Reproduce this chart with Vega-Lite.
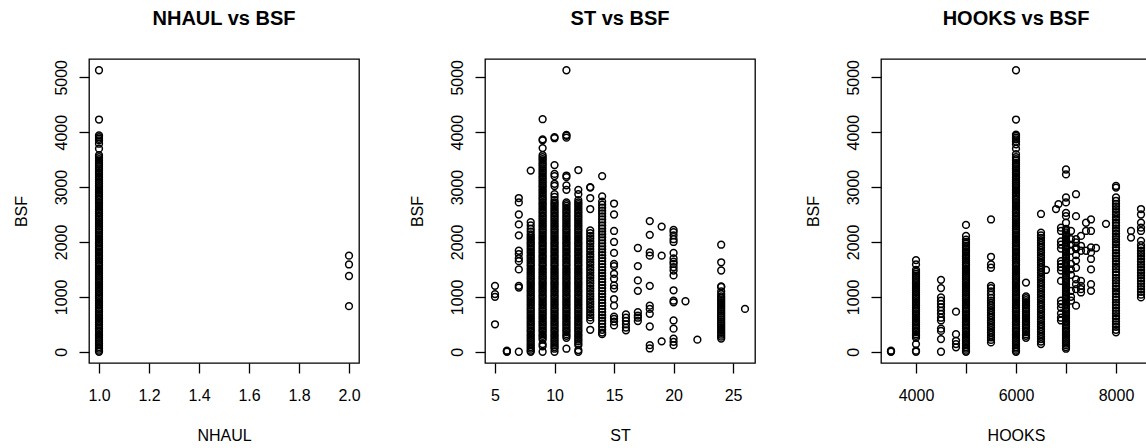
{
"$schema": "https://vega.github.io/schema/vega-lite/v6.json",
"background": "white",
"padding": {"left": 12, "top": 8, "right": 0, "bottom": 0},
"bounds": "flush",
"spacing": 126,
"config": {
  "font": "Liberation Sans",
  "view": {"stroke": "black", "strokeWidth": 1.3},
  "axis": {"domain": false, "grid": false, "tickColor": "black", "tickWidth": 1.3, "tickSize": 10, "labelFont": "Liberation Sans", "labelFontSize": 16, "labelColor": "black", "titleFont": "Liberation Sans", "titleFontSize": 16, "titleFontWeight": "normal", "titleColor": "black", "labelOverlap": false, "labelFlush": false},
  "axisX": {"labelBaseline": "alphabetic", "labelPadding": 27, "titleBaseline": "alphabetic", "titlePadding": 37},
  "axisY": {"labelAngle": 270, "labelAlign": "center", "labelBaseline": "alphabetic", "labelPadding": 13, "titleAngle": 270, "titleBaseline": "alphabetic", "titlePadding": 27},
  "title": {"font": "Liberation Sans", "fontSize": 20, "fontWeight": "bold", "color": "black", "anchor": "middle", "baseline": "alphabetic", "offset": 30},
  "point": {"shape": "circle", "filled": false, "stroke": "black", "strokeWidth": 1.5, "size": 46, "opacity": 1}
},
"datasets": {
"nhaul": [
{"NHAUL":1,"BSF":0},{"NHAUL":1,"BSF":20},{"NHAUL":1,"BSF":55},{"NHAUL":1,"BSF":85},{"NHAUL":1,"BSF":120},{"NHAUL":1,"BSF":150},{"NHAUL":1,"BSF":190},{"NHAUL":1,"BSF":220},{"NHAUL":1,"BSF":255},{"NHAUL":1,"BSF":290},
{"NHAUL":1,"BSF":320},{"NHAUL":1,"BSF":360},{"NHAUL":1,"BSF":390},{"NHAUL":1,"BSF":425},{"NHAUL":1,"BSF":460},{"NHAUL":1,"BSF":495},{"NHAUL":1,"BSF":530},{"NHAUL":1,"BSF":560},{"NHAUL":1,"BSF":600},{"NHAUL":1,"BSF":630},
{"NHAUL":1,"BSF":665},{"NHAUL":1,"BSF":700},{"NHAUL":1,"BSF":735},{"NHAUL":1,"BSF":770},{"NHAUL":1,"BSF":800},{"NHAUL":1,"BSF":840},{"NHAUL":1,"BSF":870},{"NHAUL":1,"BSF":905},{"NHAUL":1,"BSF":940},{"NHAUL":1,"BSF":975},
{"NHAUL":1,"BSF":1010},{"NHAUL":1,"BSF":1040},{"NHAUL":1,"BSF":1080},{"NHAUL":1,"BSF":1110},{"NHAUL":1,"BSF":1145},{"NHAUL":1,"BSF":1180},{"NHAUL":1,"BSF":1215},{"NHAUL":1,"BSF":1250},{"NHAUL":1,"BSF":1280},{"NHAUL":1,"BSF":1320},
{"NHAUL":1,"BSF":1350},{"NHAUL":1,"BSF":1385},{"NHAUL":1,"BSF":1420},{"NHAUL":1,"BSF":1455},{"NHAUL":1,"BSF":1490},{"NHAUL":1,"BSF":1520},{"NHAUL":1,"BSF":1560},{"NHAUL":1,"BSF":1590},{"NHAUL":1,"BSF":1625},{"NHAUL":1,"BSF":1660},
{"NHAUL":1,"BSF":1695},{"NHAUL":1,"BSF":1730},{"NHAUL":1,"BSF":1760},{"NHAUL":1,"BSF":1800},{"NHAUL":1,"BSF":1830},{"NHAUL":1,"BSF":1865},{"NHAUL":1,"BSF":1900},{"NHAUL":1,"BSF":1935},{"NHAUL":1,"BSF":1970},{"NHAUL":1,"BSF":2000},
{"NHAUL":1,"BSF":2040},{"NHAUL":1,"BSF":2070},{"NHAUL":1,"BSF":2105},{"NHAUL":1,"BSF":2140},{"NHAUL":1,"BSF":2175},{"NHAUL":1,"BSF":2210},{"NHAUL":1,"BSF":2240},{"NHAUL":1,"BSF":2280},{"NHAUL":1,"BSF":2310},{"NHAUL":1,"BSF":2345},
{"NHAUL":1,"BSF":2380},{"NHAUL":1,"BSF":2415},{"NHAUL":1,"BSF":2450},{"NHAUL":1,"BSF":2480},{"NHAUL":1,"BSF":2520},{"NHAUL":1,"BSF":2550},{"NHAUL":1,"BSF":2585},{"NHAUL":1,"BSF":2620},{"NHAUL":1,"BSF":2655},{"NHAUL":1,"BSF":2690},
{"NHAUL":1,"BSF":2720},{"NHAUL":1,"BSF":2760},{"NHAUL":1,"BSF":2790},{"NHAUL":1,"BSF":2825},{"NHAUL":1,"BSF":2860},{"NHAUL":1,"BSF":2895},{"NHAUL":1,"BSF":2930},{"NHAUL":1,"BSF":2960},{"NHAUL":1,"BSF":3000},{"NHAUL":1,"BSF":3030},
{"NHAUL":1,"BSF":3065},{"NHAUL":1,"BSF":3100},{"NHAUL":1,"BSF":3135},{"NHAUL":1,"BSF":3170},{"NHAUL":1,"BSF":3200},{"NHAUL":1,"BSF":3240},{"NHAUL":1,"BSF":3270},{"NHAUL":1,"BSF":3305},{"NHAUL":1,"BSF":3340},{"NHAUL":1,"BSF":3375},
{"NHAUL":1,"BSF":3410},{"NHAUL":1,"BSF":3440},{"NHAUL":1,"BSF":3480},{"NHAUL":1,"BSF":3510},{"NHAUL":1,"BSF":3545},
{"NHAUL":1,"BSF":3580},{"NHAUL":1,"BSF":3700},{"NHAUL":1,"BSF":3790},{"NHAUL":1,"BSF":3850},{"NHAUL":1,"BSF":3880},{"NHAUL":1,"BSF":3910},{"NHAUL":1,"BSF":3940},{"NHAUL":1,"BSF":4230},{"NHAUL":1,"BSF":5128},
{"NHAUL":2,"BSF":1750},{"NHAUL":2,"BSF":1590},{"NHAUL":2,"BSF":1380},{"NHAUL":2,"BSF":830}
],
"st": [
{"ST":5,"BSF":500},{"ST":5,"BSF":1000},{"ST":5,"BSF":1050},{"ST":5,"BSF":1200},
{"ST":6,"BSF":0},{"ST":6,"BSF":10},{"ST":6,"BSF":20},
{"ST":7,"BSF":0},{"ST":7,"BSF":1170},{"ST":7,"BSF":1200},{"ST":7,"BSF":1500},{"ST":7,"BSF":1650},{"ST":7,"BSF":1700},{"ST":7,"BSF":1780},{"ST":7,"BSF":1840},{"ST":7,"BSF":2120},{"ST":7,"BSF":2320},{"ST":7,"BSF":2500},{"ST":7,"BSF":2720},{"ST":7,"BSF":2800},
{"ST":8,"BSF":0},{"ST":8,"BSF":20},{"ST":8,"BSF":55},{"ST":8,"BSF":85},{"ST":8,"BSF":120},{"ST":8,"BSF":150},{"ST":8,"BSF":190},{"ST":8,"BSF":220},{"ST":8,"BSF":255},{"ST":8,"BSF":290},
{"ST":8,"BSF":320},{"ST":8,"BSF":360},{"ST":8,"BSF":390},{"ST":8,"BSF":425},{"ST":8,"BSF":460},{"ST":8,"BSF":495},{"ST":8,"BSF":530},{"ST":8,"BSF":560},{"ST":8,"BSF":600},{"ST":8,"BSF":630},
{"ST":8,"BSF":665},{"ST":8,"BSF":700},{"ST":8,"BSF":735},{"ST":8,"BSF":770},{"ST":8,"BSF":800},{"ST":8,"BSF":840},{"ST":8,"BSF":870},{"ST":8,"BSF":905},{"ST":8,"BSF":940},{"ST":8,"BSF":975},
{"ST":8,"BSF":1010},{"ST":8,"BSF":1040},{"ST":8,"BSF":1080},{"ST":8,"BSF":1110},{"ST":8,"BSF":1145},{"ST":8,"BSF":1180},{"ST":8,"BSF":1215},{"ST":8,"BSF":1250},{"ST":8,"BSF":1280},{"ST":8,"BSF":1320},
{"ST":8,"BSF":1350},{"ST":8,"BSF":1385},{"ST":8,"BSF":1420},{"ST":8,"BSF":1455},{"ST":8,"BSF":1490},{"ST":8,"BSF":1520},{"ST":8,"BSF":1560},{"ST":8,"BSF":1590},{"ST":8,"BSF":1625},{"ST":8,"BSF":1660},
{"ST":8,"BSF":1695},{"ST":8,"BSF":1730},{"ST":8,"BSF":1760},{"ST":8,"BSF":1800},{"ST":8,"BSF":1830},{"ST":8,"BSF":1865},{"ST":8,"BSF":1900},{"ST":8,"BSF":1935},{"ST":8,"BSF":1970},{"ST":8,"BSF":2000},
{"ST":8,"BSF":2040},{"ST":8,"BSF":2070},{"ST":8,"BSF":2105},{"ST":8,"BSF":2140},{"ST":8,"BSF":2190},{"ST":8,"BSF":2240},{"ST":8,"BSF":2300},{"ST":8,"BSF":2360},{"ST":8,"BSF":3300},
{"ST":9,"BSF":0},{"ST":9,"BSF":100},{"ST":9,"BSF":140},
{"ST":9,"BSF":220},{"ST":9,"BSF":255},{"ST":9,"BSF":290},
{"ST":9,"BSF":320},{"ST":9,"BSF":360},{"ST":9,"BSF":390},{"ST":9,"BSF":425},{"ST":9,"BSF":460},{"ST":9,"BSF":495},{"ST":9,"BSF":530},{"ST":9,"BSF":560},{"ST":9,"BSF":600},{"ST":9,"BSF":630},
{"ST":9,"BSF":665},{"ST":9,"BSF":700},{"ST":9,"BSF":735},{"ST":9,"BSF":770},{"ST":9,"BSF":800},{"ST":9,"BSF":840},{"ST":9,"BSF":870},{"ST":9,"BSF":905},{"ST":9,"BSF":940},{"ST":9,"BSF":975},
{"ST":9,"BSF":1010},{"ST":9,"BSF":1040},{"ST":9,"BSF":1080},{"ST":9,"BSF":1110},{"ST":9,"BSF":1145},{"ST":9,"BSF":1180},{"ST":9,"BSF":1215},{"ST":9,"BSF":1250},{"ST":9,"BSF":1280},{"ST":9,"BSF":1320},
{"ST":9,"BSF":1350},{"ST":9,"BSF":1385},{"ST":9,"BSF":1420},{"ST":9,"BSF":1455},{"ST":9,"BSF":1490},{"ST":9,"BSF":1520},{"ST":9,"BSF":1560},{"ST":9,"BSF":1590},{"ST":9,"BSF":1625},{"ST":9,"BSF":1660},
{"ST":9,"BSF":1695},{"ST":9,"BSF":1730},{"ST":9,"BSF":1760},{"ST":9,"BSF":1800},{"ST":9,"BSF":1830},{"ST":9,"BSF":1865},{"ST":9,"BSF":1900},{"ST":9,"BSF":1935},{"ST":9,"BSF":1970},{"ST":9,"BSF":2000},
{"ST":9,"BSF":2040},{"ST":9,"BSF":2070},{"ST":9,"BSF":2105},{"ST":9,"BSF":2140},{"ST":9,"BSF":2175},{"ST":9,"BSF":2210},{"ST":9,"BSF":2240},{"ST":9,"BSF":2280},{"ST":9,"BSF":2310},{"ST":9,"BSF":2345},
{"ST":9,"BSF":2380},{"ST":9,"BSF":2415},{"ST":9,"BSF":2450},{"ST":9,"BSF":2480},{"ST":9,"BSF":2520},{"ST":9,"BSF":2550},{"ST":9,"BSF":2585},{"ST":9,"BSF":2620},{"ST":9,"BSF":2655},{"ST":9,"BSF":2690},
{"ST":9,"BSF":2720},{"ST":9,"BSF":2760},{"ST":9,"BSF":2790},{"ST":9,"BSF":2825},{"ST":9,"BSF":2860},{"ST":9,"BSF":2895},{"ST":9,"BSF":2930},{"ST":9,"BSF":2960},{"ST":9,"BSF":3000},{"ST":9,"BSF":3030},
{"ST":9,"BSF":3065},{"ST":9,"BSF":3100},{"ST":9,"BSF":3135},{"ST":9,"BSF":3170},{"ST":9,"BSF":3200},{"ST":9,"BSF":3240},{"ST":9,"BSF":3270},{"ST":9,"BSF":3305},{"ST":9,"BSF":3340},{"ST":9,"BSF":3375},
{"ST":9,"BSF":3410},{"ST":9,"BSF":3440},{"ST":9,"BSF":3480},{"ST":9,"BSF":3510},{"ST":9,"BSF":3545},
{"ST":9,"BSF":3580},{"ST":9,"BSF":3710},{"ST":9,"BSF":3850},{"ST":9,"BSF":3870},{"ST":9,"BSF":4236},
{"ST":10,"BSF":0},{"ST":10,"BSF":55},{"ST":10,"BSF":85},{"ST":10,"BSF":120},{"ST":10,"BSF":150},{"ST":10,"BSF":190},{"ST":10,"BSF":220},{"ST":10,"BSF":255},{"ST":10,"BSF":290},
{"ST":10,"BSF":320},{"ST":10,"BSF":360},{"ST":10,"BSF":390},{"ST":10,"BSF":425},{"ST":10,"BSF":460},{"ST":10,"BSF":495},{"ST":10,"BSF":530},{"ST":10,"BSF":560},{"ST":10,"BSF":600},{"ST":10,"BSF":630},
{"ST":10,"BSF":665},{"ST":10,"BSF":700},{"ST":10,"BSF":735},{"ST":10,"BSF":770},{"ST":10,"BSF":800},{"ST":10,"BSF":840},{"ST":10,"BSF":870},{"ST":10,"BSF":905},{"ST":10,"BSF":940},{"ST":10,"BSF":975},
{"ST":10,"BSF":1010},{"ST":10,"BSF":1040},{"ST":10,"BSF":1080},{"ST":10,"BSF":1110},{"ST":10,"BSF":1145},{"ST":10,"BSF":1180},{"ST":10,"BSF":1215},{"ST":10,"BSF":1250},{"ST":10,"BSF":1280},{"ST":10,"BSF":1320},
{"ST":10,"BSF":1350},{"ST":10,"BSF":1385},{"ST":10,"BSF":1420},{"ST":10,"BSF":1455},{"ST":10,"BSF":1490},{"ST":10,"BSF":1520},{"ST":10,"BSF":1560},{"ST":10,"BSF":1590},{"ST":10,"BSF":1625},{"ST":10,"BSF":1660},
{"ST":10,"BSF":1695},{"ST":10,"BSF":1730},{"ST":10,"BSF":1760},{"ST":10,"BSF":1800},{"ST":10,"BSF":1830},{"ST":10,"BSF":1865},{"ST":10,"BSF":1900},{"ST":10,"BSF":1935},{"ST":10,"BSF":1970},{"ST":10,"BSF":2000},
{"ST":10,"BSF":2040},{"ST":10,"BSF":2070},{"ST":10,"BSF":2105},{"ST":10,"BSF":2140},{"ST":10,"BSF":2175},{"ST":10,"BSF":2210},{"ST":10,"BSF":2240},{"ST":10,"BSF":2280},{"ST":10,"BSF":2310},{"ST":10,"BSF":2345},
{"ST":10,"BSF":2380},{"ST":10,"BSF":2415},{"ST":10,"BSF":2450},{"ST":10,"BSF":2480},{"ST":10,"BSF":2520},{"ST":10,"BSF":2550},{"ST":10,"BSF":2585},{"ST":10,"BSF":2620},{"ST":10,"BSF":2655},{"ST":10,"BSF":2690},
{"ST":10,"BSF":2720},{"ST":10,"BSF":2760},{"ST":10,"BSF":2820},{"ST":10,"BSF":2870},{"ST":10,"BSF":3020},{"ST":10,"BSF":3060},{"ST":10,"BSF":3200},{"ST":10,"BSF":3240},{"ST":10,"BSF":3400},{"ST":10,"BSF":3890},{"ST":10,"BSF":3910},
{"ST":11,"BSF":55},{"ST":11,"BSF":255},{"ST":11,"BSF":290},
{"ST":11,"BSF":320},{"ST":11,"BSF":360},{"ST":11,"BSF":390},{"ST":11,"BSF":425},{"ST":11,"BSF":460},{"ST":11,"BSF":495},{"ST":11,"BSF":530},{"ST":11,"BSF":560},{"ST":11,"BSF":600},{"ST":11,"BSF":630},
{"ST":11,"BSF":665},{"ST":11,"BSF":700},{"ST":11,"BSF":735},{"ST":11,"BSF":770},{"ST":11,"BSF":800},{"ST":11,"BSF":840},{"ST":11,"BSF":870},{"ST":11,"BSF":905},{"ST":11,"BSF":940},{"ST":11,"BSF":975},
{"ST":11,"BSF":1010},{"ST":11,"BSF":1040},{"ST":11,"BSF":1080},{"ST":11,"BSF":1110},{"ST":11,"BSF":1145},{"ST":11,"BSF":1180},{"ST":11,"BSF":1215},{"ST":11,"BSF":1250},{"ST":11,"BSF":1280},{"ST":11,"BSF":1320},
{"ST":11,"BSF":1350},{"ST":11,"BSF":1385},{"ST":11,"BSF":1420},{"ST":11,"BSF":1455},{"ST":11,"BSF":1490},{"ST":11,"BSF":1520},{"ST":11,"BSF":1560},{"ST":11,"BSF":1590},{"ST":11,"BSF":1625},{"ST":11,"BSF":1660},
{"ST":11,"BSF":1695},{"ST":11,"BSF":1730},{"ST":11,"BSF":1760},{"ST":11,"BSF":1800},{"ST":11,"BSF":1830},{"ST":11,"BSF":1865},{"ST":11,"BSF":1900},{"ST":11,"BSF":1935},{"ST":11,"BSF":1970},{"ST":11,"BSF":2000},
{"ST":11,"BSF":2040},{"ST":11,"BSF":2070},{"ST":11,"BSF":2105},{"ST":11,"BSF":2140},{"ST":11,"BSF":2175},{"ST":11,"BSF":2210},{"ST":11,"BSF":2240},{"ST":11,"BSF":2280},{"ST":11,"BSF":2310},{"ST":11,"BSF":2345},
{"ST":11,"BSF":2380},{"ST":11,"BSF":2415},{"ST":11,"BSF":2450},{"ST":11,"BSF":2480},{"ST":11,"BSF":2520},{"ST":11,"BSF":2550},{"ST":11,"BSF":2585},{"ST":11,"BSF":2620},{"ST":11,"BSF":2655},{"ST":11,"BSF":2690},
{"ST":11,"BSF":2720},{"ST":11,"BSF":2950},{"ST":11,"BSF":3030},{"ST":11,"BSF":3180},{"ST":11,"BSF":3210},{"ST":11,"BSF":3900},{"ST":11,"BSF":3935},{"ST":11,"BSF":3950},{"ST":11,"BSF":5128},
{"ST":12,"BSF":0},{"ST":12,"BSF":30},{"ST":12,"BSF":120},{"ST":12,"BSF":150},{"ST":12,"BSF":190},{"ST":12,"BSF":220},{"ST":12,"BSF":255},{"ST":12,"BSF":290},
{"ST":12,"BSF":320},{"ST":12,"BSF":360},{"ST":12,"BSF":390},{"ST":12,"BSF":425},{"ST":12,"BSF":460},{"ST":12,"BSF":495},{"ST":12,"BSF":530},{"ST":12,"BSF":560},{"ST":12,"BSF":600},{"ST":12,"BSF":630},
{"ST":12,"BSF":665},{"ST":12,"BSF":700},{"ST":12,"BSF":735},{"ST":12,"BSF":770},{"ST":12,"BSF":800},{"ST":12,"BSF":840},{"ST":12,"BSF":870},{"ST":12,"BSF":905},{"ST":12,"BSF":940},{"ST":12,"BSF":975},
{"ST":12,"BSF":1010},{"ST":12,"BSF":1040},{"ST":12,"BSF":1080},{"ST":12,"BSF":1110},{"ST":12,"BSF":1145},{"ST":12,"BSF":1180},{"ST":12,"BSF":1215},{"ST":12,"BSF":1250},{"ST":12,"BSF":1280},{"ST":12,"BSF":1320},
{"ST":12,"BSF":1350},{"ST":12,"BSF":1385},{"ST":12,"BSF":1420},{"ST":12,"BSF":1455},{"ST":12,"BSF":1490},{"ST":12,"BSF":1520},{"ST":12,"BSF":1560},{"ST":12,"BSF":1590},{"ST":12,"BSF":1625},{"ST":12,"BSF":1660},
{"ST":12,"BSF":1695},{"ST":12,"BSF":1730},{"ST":12,"BSF":1760},{"ST":12,"BSF":1800},{"ST":12,"BSF":1830},{"ST":12,"BSF":1865},{"ST":12,"BSF":1900},{"ST":12,"BSF":1935},{"ST":12,"BSF":1970},{"ST":12,"BSF":2000},
{"ST":12,"BSF":2040},{"ST":12,"BSF":2070},{"ST":12,"BSF":2105},{"ST":12,"BSF":2140},{"ST":12,"BSF":2175},{"ST":12,"BSF":2210},{"ST":12,"BSF":2240},{"ST":12,"BSF":2280},{"ST":12,"BSF":2310},{"ST":12,"BSF":2345},
{"ST":12,"BSF":2380},{"ST":12,"BSF":2415},{"ST":12,"BSF":2450},{"ST":12,"BSF":2480},{"ST":12,"BSF":2520},{"ST":12,"BSF":2550},{"ST":12,"BSF":2585},{"ST":12,"BSF":2620},{"ST":12,"BSF":2655},{"ST":12,"BSF":2690},
{"ST":12,"BSF":2720},{"ST":12,"BSF":2760},{"ST":12,"BSF":2870},{"ST":12,"BSF":2950},{"ST":12,"BSF":3310},
{"ST":13,"BSF":400},{"ST":13,"BSF":575},{"ST":13,"BSF":625},{"ST":13,"BSF":670},{"ST":13,"BSF":720},{"ST":13,"BSF":770},{"ST":13,"BSF":815},{"ST":13,"BSF":865},{"ST":13,"BSF":910},{"ST":13,"BSF":960},
{"ST":13,"BSF":1010},{"ST":13,"BSF":1055},{"ST":13,"BSF":1105},{"ST":13,"BSF":1150},{"ST":13,"BSF":1200},{"ST":13,"BSF":1250},{"ST":13,"BSF":1295},{"ST":13,"BSF":1345},{"ST":13,"BSF":1390},{"ST":13,"BSF":1440},
{"ST":13,"BSF":1490},{"ST":13,"BSF":1535},{"ST":13,"BSF":1585},{"ST":13,"BSF":1630},{"ST":13,"BSF":1680},{"ST":13,"BSF":1730},{"ST":13,"BSF":1775},{"ST":13,"BSF":1825},{"ST":13,"BSF":1870},{"ST":13,"BSF":1920},
{"ST":13,"BSF":1970},{"ST":13,"BSF":2015},{"ST":13,"BSF":2065},{"ST":13,"BSF":2110},{"ST":13,"BSF":2160},{"ST":13,"BSF":2210},{"ST":13,"BSF":2600},{"ST":13,"BSF":2800},{"ST":13,"BSF":2990},{"ST":13,"BSF":3000},
{"ST":14,"BSF":320},{"ST":14,"BSF":350},{"ST":14,"BSF":400},{"ST":14,"BSF":455},{"ST":14,"BSF":510},{"ST":14,"BSF":565},{"ST":14,"BSF":620},{"ST":14,"BSF":670},{"ST":14,"BSF":725},{"ST":14,"BSF":780},
{"ST":14,"BSF":835},{"ST":14,"BSF":890},{"ST":14,"BSF":945},{"ST":14,"BSF":1000},{"ST":14,"BSF":1050},{"ST":14,"BSF":1105},{"ST":14,"BSF":1160},{"ST":14,"BSF":1215},{"ST":14,"BSF":1270},{"ST":14,"BSF":1325},
{"ST":14,"BSF":1380},{"ST":14,"BSF":1430},{"ST":14,"BSF":1485},{"ST":14,"BSF":1540},{"ST":14,"BSF":1595},{"ST":14,"BSF":1650},{"ST":14,"BSF":1705},{"ST":14,"BSF":1760},{"ST":14,"BSF":1810},{"ST":14,"BSF":1865},
{"ST":14,"BSF":1920},{"ST":14,"BSF":1975},{"ST":14,"BSF":2030},{"ST":14,"BSF":2085},{"ST":14,"BSF":2140},{"ST":14,"BSF":2190},{"ST":14,"BSF":2245},{"ST":14,"BSF":2300},{"ST":14,"BSF":2355},{"ST":14,"BSF":2410},
{"ST":14,"BSF":2465},{"ST":14,"BSF":2520},{"ST":14,"BSF":2570},{"ST":14,"BSF":2625},{"ST":14,"BSF":2680},{"ST":14,"BSF":2735},{"ST":14,"BSF":2830},{"ST":14,"BSF":3200},
{"ST":15,"BSF":480},{"ST":15,"BSF":550},{"ST":15,"BSF":600},{"ST":15,"BSF":640},{"ST":15,"BSF":840},{"ST":15,"BSF":960},{"ST":15,"BSF":1150},{"ST":15,"BSF":1210},{"ST":15,"BSF":1330},{"ST":15,"BSF":1420},
{"ST":15,"BSF":1560},{"ST":15,"BSF":1600},{"ST":15,"BSF":1800},{"ST":15,"BSF":2000},{"ST":15,"BSF":2200},{"ST":15,"BSF":2500},{"ST":15,"BSF":2700},
{"ST":16,"BSF":390},{"ST":16,"BSF":440},{"ST":16,"BSF":500},{"ST":16,"BSF":560},{"ST":16,"BSF":620},{"ST":16,"BSF":680},
{"ST":17,"BSF":560},{"ST":17,"BSF":620},{"ST":17,"BSF":660},{"ST":17,"BSF":720},{"ST":17,"BSF":1110},{"ST":17,"BSF":1300},{"ST":17,"BSF":1560},{"ST":17,"BSF":1890},
{"ST":18,"BSF":60},{"ST":18,"BSF":120},{"ST":18,"BSF":460},{"ST":18,"BSF":690},{"ST":18,"BSF":780},{"ST":18,"BSF":840},{"ST":18,"BSF":1200},{"ST":18,"BSF":1750},{"ST":18,"BSF":1810},{"ST":18,"BSF":2130},{"ST":18,"BSF":2380},
{"ST":19,"BSF":190},{"ST":19,"BSF":1750},{"ST":19,"BSF":2280},
{"ST":20,"BSF":120},{"ST":20,"BSF":180},{"ST":20,"BSF":240},{"ST":20,"BSF":420},{"ST":20,"BSF":570},{"ST":20,"BSF":900},{"ST":20,"BSF":930},{"ST":20,"BSF":1120},{"ST":20,"BSF":1390},{"ST":20,"BSF":1480},
{"ST":20,"BSF":1540},{"ST":20,"BSF":1600},{"ST":20,"BSF":1640},{"ST":20,"BSF":1700},{"ST":20,"BSF":1800},{"ST":20,"BSF":2000},{"ST":20,"BSF":2050},{"ST":20,"BSF":2120},{"ST":20,"BSF":2180},{"ST":20,"BSF":2220},
{"ST":21,"BSF":920},
{"ST":22,"BSF":220},
{"ST":24,"BSF":240},{"ST":24,"BSF":275},{"ST":24,"BSF":310},{"ST":24,"BSF":345},{"ST":24,"BSF":380},{"ST":24,"BSF":415},{"ST":24,"BSF":450},{"ST":24,"BSF":485},{"ST":24,"BSF":520},{"ST":24,"BSF":555},
{"ST":24,"BSF":590},{"ST":24,"BSF":625},{"ST":24,"BSF":660},{"ST":24,"BSF":695},{"ST":24,"BSF":730},{"ST":24,"BSF":765},{"ST":24,"BSF":800},{"ST":24,"BSF":835},{"ST":24,"BSF":870},{"ST":24,"BSF":905},
{"ST":24,"BSF":940},{"ST":24,"BSF":975},{"ST":24,"BSF":1010},{"ST":24,"BSF":1050},{"ST":24,"BSF":1100},{"ST":24,"BSF":1180},{"ST":24,"BSF":1190},{"ST":24,"BSF":1480},{"ST":24,"BSF":1630},{"ST":24,"BSF":1950},
{"ST":26,"BSF":780}
],
"hooks": [
{"HOOKS":3500,"BSF":0},{"HOOKS":3500,"BSF":10},{"HOOKS":3500,"BSF":20},
{"HOOKS":4000,"BSF":0},{"HOOKS":4000,"BSF":20},{"HOOKS":4000,"BSF":140},
{"HOOKS":4000,"BSF":255},{"HOOKS":4000,"BSF":290},{"HOOKS":4000,"BSF":320},{"HOOKS":4000,"BSF":360},{"HOOKS":4000,"BSF":390},{"HOOKS":4000,"BSF":425},{"HOOKS":4000,"BSF":460},{"HOOKS":4000,"BSF":495},{"HOOKS":4000,"BSF":530},{"HOOKS":4000,"BSF":560},
{"HOOKS":4000,"BSF":600},{"HOOKS":4000,"BSF":630},{"HOOKS":4000,"BSF":665},{"HOOKS":4000,"BSF":700},{"HOOKS":4000,"BSF":735},{"HOOKS":4000,"BSF":770},{"HOOKS":4000,"BSF":800},{"HOOKS":4000,"BSF":840},{"HOOKS":4000,"BSF":870},{"HOOKS":4000,"BSF":905},
{"HOOKS":4000,"BSF":940},{"HOOKS":4000,"BSF":975},{"HOOKS":4000,"BSF":1010},{"HOOKS":4000,"BSF":1040},{"HOOKS":4000,"BSF":1080},{"HOOKS":4000,"BSF":1110},{"HOOKS":4000,"BSF":1145},{"HOOKS":4000,"BSF":1180},{"HOOKS":4000,"BSF":1215},{"HOOKS":4000,"BSF":1250},
{"HOOKS":4000,"BSF":1280},{"HOOKS":4000,"BSF":1320},{"HOOKS":4000,"BSF":1350},{"HOOKS":4000,"BSF":1385},{"HOOKS":4000,"BSF":1420},{"HOOKS":4000,"BSF":1455},{"HOOKS":4000,"BSF":1490},{"HOOKS":4000,"BSF":1590},{"HOOKS":4000,"BSF":1670},
{"HOOKS":4500,"BSF":0},{"HOOKS":4500,"BSF":230},{"HOOKS":4500,"BSF":380},{"HOOKS":4500,"BSF":420},{"HOOKS":4500,"BSF":570},{"HOOKS":4500,"BSF":620},{"HOOKS":4500,"BSF":690},{"HOOKS":4500,"BSF":750},{"HOOKS":4500,"BSF":810},{"HOOKS":4500,"BSF":870},{"HOOKS":4500,"BSF":930},{"HOOKS":4500,"BSF":990},{"HOOKS":4500,"BSF":1160},{"HOOKS":4500,"BSF":1310},
{"HOOKS":4800,"BSF":80},{"HOOKS":4800,"BSF":140},{"HOOKS":4800,"BSF":200},{"HOOKS":4800,"BSF":320},{"HOOKS":4800,"BSF":730},
{"HOOKS":5000,"BSF":0},{"HOOKS":5000,"BSF":20},{"HOOKS":5000,"BSF":55},{"HOOKS":5000,"BSF":85},{"HOOKS":5000,"BSF":120},{"HOOKS":5000,"BSF":150},{"HOOKS":5000,"BSF":190},{"HOOKS":5000,"BSF":220},{"HOOKS":5000,"BSF":255},{"HOOKS":5000,"BSF":290},
{"HOOKS":5000,"BSF":320},{"HOOKS":5000,"BSF":360},{"HOOKS":5000,"BSF":390},{"HOOKS":5000,"BSF":425},{"HOOKS":5000,"BSF":460},{"HOOKS":5000,"BSF":495},{"HOOKS":5000,"BSF":530},{"HOOKS":5000,"BSF":560},{"HOOKS":5000,"BSF":600},{"HOOKS":5000,"BSF":630},
{"HOOKS":5000,"BSF":665},{"HOOKS":5000,"BSF":700},{"HOOKS":5000,"BSF":735},{"HOOKS":5000,"BSF":770},{"HOOKS":5000,"BSF":800},{"HOOKS":5000,"BSF":840},{"HOOKS":5000,"BSF":870},{"HOOKS":5000,"BSF":905},{"HOOKS":5000,"BSF":940},{"HOOKS":5000,"BSF":975},
{"HOOKS":5000,"BSF":1010},{"HOOKS":5000,"BSF":1040},{"HOOKS":5000,"BSF":1080},{"HOOKS":5000,"BSF":1110},{"HOOKS":5000,"BSF":1145},{"HOOKS":5000,"BSF":1180},{"HOOKS":5000,"BSF":1215},{"HOOKS":5000,"BSF":1250},{"HOOKS":5000,"BSF":1280},{"HOOKS":5000,"BSF":1320},
{"HOOKS":5000,"BSF":1350},{"HOOKS":5000,"BSF":1385},{"HOOKS":5000,"BSF":1420},{"HOOKS":5000,"BSF":1455},{"HOOKS":5000,"BSF":1490},{"HOOKS":5000,"BSF":1520},{"HOOKS":5000,"BSF":1560},{"HOOKS":5000,"BSF":1590},{"HOOKS":5000,"BSF":1625},{"HOOKS":5000,"BSF":1660},
{"HOOKS":5000,"BSF":1695},{"HOOKS":5000,"BSF":1730},{"HOOKS":5000,"BSF":1760},{"HOOKS":5000,"BSF":1800},{"HOOKS":5000,"BSF":1830},{"HOOKS":5000,"BSF":1865},{"HOOKS":5000,"BSF":1900},{"HOOKS":5000,"BSF":1935},{"HOOKS":5000,"BSF":1970},{"HOOKS":5000,"BSF":2000},
{"HOOKS":5000,"BSF":2040},{"HOOKS":5000,"BSF":2110},{"HOOKS":5000,"BSF":2310},
{"HOOKS":5500,"BSF":170},{"HOOKS":5500,"BSF":215},{"HOOKS":5500,"BSF":260},{"HOOKS":5500,"BSF":305},{"HOOKS":5500,"BSF":350},{"HOOKS":5500,"BSF":395},{"HOOKS":5500,"BSF":440},{"HOOKS":5500,"BSF":485},{"HOOKS":5500,"BSF":530},{"HOOKS":5500,"BSF":575},
{"HOOKS":5500,"BSF":620},{"HOOKS":5500,"BSF":665},{"HOOKS":5500,"BSF":710},{"HOOKS":5500,"BSF":755},{"HOOKS":5500,"BSF":800},{"HOOKS":5500,"BSF":845},{"HOOKS":5500,"BSF":890},{"HOOKS":5500,"BSF":930},{"HOOKS":5500,"BSF":980},{"HOOKS":5500,"BSF":1040},
{"HOOKS":5500,"BSF":1100},{"HOOKS":5500,"BSF":1160},{"HOOKS":5500,"BSF":1200},{"HOOKS":5500,"BSF":1530},{"HOOKS":5500,"BSF":1590},{"HOOKS":5500,"BSF":1730},{"HOOKS":5500,"BSF":2410},
{"HOOKS":6000,"BSF":0},{"HOOKS":6000,"BSF":20},{"HOOKS":6000,"BSF":55},{"HOOKS":6000,"BSF":85},{"HOOKS":6000,"BSF":120},{"HOOKS":6000,"BSF":150},{"HOOKS":6000,"BSF":190},{"HOOKS":6000,"BSF":220},{"HOOKS":6000,"BSF":255},{"HOOKS":6000,"BSF":290},
{"HOOKS":6000,"BSF":320},{"HOOKS":6000,"BSF":360},{"HOOKS":6000,"BSF":390},{"HOOKS":6000,"BSF":425},{"HOOKS":6000,"BSF":460},{"HOOKS":6000,"BSF":495},{"HOOKS":6000,"BSF":530},{"HOOKS":6000,"BSF":560},{"HOOKS":6000,"BSF":600},{"HOOKS":6000,"BSF":630},
{"HOOKS":6000,"BSF":665},{"HOOKS":6000,"BSF":700},{"HOOKS":6000,"BSF":735},{"HOOKS":6000,"BSF":770},{"HOOKS":6000,"BSF":800},{"HOOKS":6000,"BSF":840},{"HOOKS":6000,"BSF":870},{"HOOKS":6000,"BSF":905},{"HOOKS":6000,"BSF":940},{"HOOKS":6000,"BSF":975},
{"HOOKS":6000,"BSF":1010},{"HOOKS":6000,"BSF":1040},{"HOOKS":6000,"BSF":1080},{"HOOKS":6000,"BSF":1110},{"HOOKS":6000,"BSF":1145},{"HOOKS":6000,"BSF":1180},{"HOOKS":6000,"BSF":1215},{"HOOKS":6000,"BSF":1250},{"HOOKS":6000,"BSF":1280},{"HOOKS":6000,"BSF":1320},
{"HOOKS":6000,"BSF":1350},{"HOOKS":6000,"BSF":1385},{"HOOKS":6000,"BSF":1420},{"HOOKS":6000,"BSF":1455},{"HOOKS":6000,"BSF":1490},{"HOOKS":6000,"BSF":1520},{"HOOKS":6000,"BSF":1560},{"HOOKS":6000,"BSF":1590},{"HOOKS":6000,"BSF":1625},{"HOOKS":6000,"BSF":1660},
{"HOOKS":6000,"BSF":1695},{"HOOKS":6000,"BSF":1730},{"HOOKS":6000,"BSF":1760},{"HOOKS":6000,"BSF":1800},{"HOOKS":6000,"BSF":1830},{"HOOKS":6000,"BSF":1865},{"HOOKS":6000,"BSF":1900},{"HOOKS":6000,"BSF":1935},{"HOOKS":6000,"BSF":1970},{"HOOKS":6000,"BSF":2000},
{"HOOKS":6000,"BSF":2040},{"HOOKS":6000,"BSF":2070},{"HOOKS":6000,"BSF":2105},{"HOOKS":6000,"BSF":2140},{"HOOKS":6000,"BSF":2175},{"HOOKS":6000,"BSF":2210},{"HOOKS":6000,"BSF":2240},{"HOOKS":6000,"BSF":2280},{"HOOKS":6000,"BSF":2310},{"HOOKS":6000,"BSF":2345},
{"HOOKS":6000,"BSF":2380},{"HOOKS":6000,"BSF":2415},{"HOOKS":6000,"BSF":2450},{"HOOKS":6000,"BSF":2480},{"HOOKS":6000,"BSF":2520},{"HOOKS":6000,"BSF":2550},{"HOOKS":6000,"BSF":2585},{"HOOKS":6000,"BSF":2620},{"HOOKS":6000,"BSF":2655},{"HOOKS":6000,"BSF":2690},
{"HOOKS":6000,"BSF":2720},{"HOOKS":6000,"BSF":2760},{"HOOKS":6000,"BSF":2790},{"HOOKS":6000,"BSF":2825},{"HOOKS":6000,"BSF":2860},{"HOOKS":6000,"BSF":2895},{"HOOKS":6000,"BSF":2930},{"HOOKS":6000,"BSF":2960},{"HOOKS":6000,"BSF":3000},{"HOOKS":6000,"BSF":3030},
{"HOOKS":6000,"BSF":3065},{"HOOKS":6000,"BSF":3100},{"HOOKS":6000,"BSF":3135},{"HOOKS":6000,"BSF":3170},{"HOOKS":6000,"BSF":3200},{"HOOKS":6000,"BSF":3240},{"HOOKS":6000,"BSF":3270},{"HOOKS":6000,"BSF":3305},{"HOOKS":6000,"BSF":3340},{"HOOKS":6000,"BSF":3375},
{"HOOKS":6000,"BSF":3410},{"HOOKS":6000,"BSF":3440},{"HOOKS":6000,"BSF":3480},{"HOOKS":6000,"BSF":3510},{"HOOKS":6000,"BSF":3545},
{"HOOKS":6000,"BSF":3600},{"HOOKS":6000,"BSF":3700},{"HOOKS":6000,"BSF":3780},{"HOOKS":6000,"BSF":3830},{"HOOKS":6000,"BSF":3870},{"HOOKS":6000,"BSF":3900},{"HOOKS":6000,"BSF":3930},{"HOOKS":6000,"BSF":3955},{"HOOKS":6000,"BSF":4230},{"HOOKS":6000,"BSF":5128},
{"HOOKS":6200,"BSF":255},{"HOOKS":6200,"BSF":290},{"HOOKS":6200,"BSF":320},{"HOOKS":6200,"BSF":360},{"HOOKS":6200,"BSF":390},{"HOOKS":6200,"BSF":425},{"HOOKS":6200,"BSF":460},{"HOOKS":6200,"BSF":495},{"HOOKS":6200,"BSF":530},{"HOOKS":6200,"BSF":560},
{"HOOKS":6200,"BSF":600},{"HOOKS":6200,"BSF":630},{"HOOKS":6200,"BSF":665},{"HOOKS":6200,"BSF":700},{"HOOKS":6200,"BSF":735},{"HOOKS":6200,"BSF":770},{"HOOKS":6200,"BSF":800},{"HOOKS":6200,"BSF":840},{"HOOKS":6200,"BSF":870},{"HOOKS":6200,"BSF":905},
{"HOOKS":6200,"BSF":940},{"HOOKS":6200,"BSF":975},{"HOOKS":6200,"BSF":1010},{"HOOKS":6200,"BSF":1260},
{"HOOKS":6500,"BSF":140},{"HOOKS":6500,"BSF":185},{"HOOKS":6500,"BSF":230},{"HOOKS":6500,"BSF":275},{"HOOKS":6500,"BSF":320},{"HOOKS":6500,"BSF":365},{"HOOKS":6500,"BSF":410},{"HOOKS":6500,"BSF":455},{"HOOKS":6500,"BSF":500},{"HOOKS":6500,"BSF":545},
{"HOOKS":6500,"BSF":590},{"HOOKS":6500,"BSF":635},{"HOOKS":6500,"BSF":680},{"HOOKS":6500,"BSF":725},{"HOOKS":6500,"BSF":770},{"HOOKS":6500,"BSF":815},{"HOOKS":6500,"BSF":860},{"HOOKS":6500,"BSF":905},{"HOOKS":6500,"BSF":950},{"HOOKS":6500,"BSF":995},
{"HOOKS":6500,"BSF":1040},{"HOOKS":6500,"BSF":1085},{"HOOKS":6500,"BSF":1130},{"HOOKS":6500,"BSF":1175},{"HOOKS":6500,"BSF":1220},{"HOOKS":6500,"BSF":1265},{"HOOKS":6500,"BSF":1310},{"HOOKS":6500,"BSF":1355},{"HOOKS":6500,"BSF":1400},{"HOOKS":6500,"BSF":1445},
{"HOOKS":6500,"BSF":1490},{"HOOKS":6500,"BSF":1535},{"HOOKS":6500,"BSF":1580},{"HOOKS":6500,"BSF":1625},{"HOOKS":6500,"BSF":1670},{"HOOKS":6500,"BSF":1715},{"HOOKS":6500,"BSF":1760},{"HOOKS":6500,"BSF":1805},{"HOOKS":6500,"BSF":1850},{"HOOKS":6500,"BSF":1895},
{"HOOKS":6500,"BSF":1940},{"HOOKS":6500,"BSF":1985},{"HOOKS":6500,"BSF":2030},{"HOOKS":6500,"BSF":2075},{"HOOKS":6500,"BSF":2120},{"HOOKS":6500,"BSF":2170},{"HOOKS":6500,"BSF":2510},
{"HOOKS":6600,"BSF":1490},
{"HOOKS":6800,"BSF":2600},
{"HOOKS":6850,"BSF":2690},
{"HOOKS":6900,"BSF":570},{"HOOKS":6900,"BSF":620},{"HOOKS":6900,"BSF":700},{"HOOKS":6900,"BSF":800},{"HOOKS":6900,"BSF":870},{"HOOKS":6900,"BSF":930},{"HOOKS":6900,"BSF":1290},{"HOOKS":6900,"BSF":1480},{"HOOKS":6900,"BSF":1540},{"HOOKS":6900,"BSF":1600},
{"HOOKS":6900,"BSF":1650},{"HOOKS":6900,"BSF":1880},{"HOOKS":6900,"BSF":1950},{"HOOKS":6900,"BSF":2010},{"HOOKS":6900,"BSF":2200},{"HOOKS":6900,"BSF":2260},
{"HOOKS":7000,"BSF":55},{"HOOKS":7000,"BSF":85},{"HOOKS":7000,"BSF":120},{"HOOKS":7000,"BSF":150},{"HOOKS":7000,"BSF":190},{"HOOKS":7000,"BSF":220},{"HOOKS":7000,"BSF":255},{"HOOKS":7000,"BSF":290},
{"HOOKS":7000,"BSF":320},{"HOOKS":7000,"BSF":360},{"HOOKS":7000,"BSF":390},{"HOOKS":7000,"BSF":425},{"HOOKS":7000,"BSF":460},{"HOOKS":7000,"BSF":495},{"HOOKS":7000,"BSF":530},{"HOOKS":7000,"BSF":560},{"HOOKS":7000,"BSF":600},{"HOOKS":7000,"BSF":630},
{"HOOKS":7000,"BSF":665},{"HOOKS":7000,"BSF":700},{"HOOKS":7000,"BSF":735},{"HOOKS":7000,"BSF":770},{"HOOKS":7000,"BSF":800},{"HOOKS":7000,"BSF":840},{"HOOKS":7000,"BSF":870},{"HOOKS":7000,"BSF":905},{"HOOKS":7000,"BSF":940},{"HOOKS":7000,"BSF":975},
{"HOOKS":7000,"BSF":1010},{"HOOKS":7000,"BSF":1040},{"HOOKS":7000,"BSF":1080},{"HOOKS":7000,"BSF":1110},{"HOOKS":7000,"BSF":1145},{"HOOKS":7000,"BSF":1180},{"HOOKS":7000,"BSF":1215},{"HOOKS":7000,"BSF":1250},{"HOOKS":7000,"BSF":1280},{"HOOKS":7000,"BSF":1320},
{"HOOKS":7000,"BSF":1350},{"HOOKS":7000,"BSF":1385},{"HOOKS":7000,"BSF":1420},{"HOOKS":7000,"BSF":1455},{"HOOKS":7000,"BSF":1490},{"HOOKS":7000,"BSF":1520},{"HOOKS":7000,"BSF":1560},{"HOOKS":7000,"BSF":1590},{"HOOKS":7000,"BSF":1625},{"HOOKS":7000,"BSF":1660},
{"HOOKS":7000,"BSF":1695},{"HOOKS":7000,"BSF":1730},{"HOOKS":7000,"BSF":1760},{"HOOKS":7000,"BSF":1800},{"HOOKS":7000,"BSF":1830},{"HOOKS":7000,"BSF":1865},{"HOOKS":7000,"BSF":1900},{"HOOKS":7000,"BSF":1935},{"HOOKS":7000,"BSF":1970},{"HOOKS":7000,"BSF":2000},
{"HOOKS":7000,"BSF":2040},{"HOOKS":7000,"BSF":2070},{"HOOKS":7000,"BSF":2105},{"HOOKS":7000,"BSF":2140},{"HOOKS":7000,"BSF":2175},{"HOOKS":7000,"BSF":2210},{"HOOKS":7000,"BSF":2240},
{"HOOKS":7000,"BSF":2350},{"HOOKS":7000,"BSF":2470},{"HOOKS":7000,"BSF":2530},{"HOOKS":7000,"BSF":2720},{"HOOKS":7000,"BSF":2810},{"HOOKS":7000,"BSF":3230},{"HOOKS":7000,"BSF":3320},
{"HOOKS":7100,"BSF":930},{"HOOKS":7100,"BSF":1000},{"HOOKS":7100,"BSF":1110},{"HOOKS":7100,"BSF":1400},{"HOOKS":7100,"BSF":1500},{"HOOKS":7100,"BSF":1600},{"HOOKS":7100,"BSF":1840},{"HOOKS":7100,"BSF":1950},{"HOOKS":7100,"BSF":2050},{"HOOKS":7100,"BSF":2200},
{"HOOKS":7200,"BSF":840},{"HOOKS":7200,"BSF":1140},{"HOOKS":7200,"BSF":1230},{"HOOKS":7200,"BSF":1320},{"HOOKS":7200,"BSF":1530},{"HOOKS":7200,"BSF":1660},{"HOOKS":7200,"BSF":1760},{"HOOKS":7200,"BSF":1870},{"HOOKS":7200,"BSF":1900},{"HOOKS":7200,"BSF":1990},
{"HOOKS":7200,"BSF":2050},{"HOOKS":7200,"BSF":2470},{"HOOKS":7200,"BSF":2870},
{"HOOKS":7300,"BSF":1080},{"HOOKS":7300,"BSF":1140},{"HOOKS":7300,"BSF":1200},{"HOOKS":7300,"BSF":1290},{"HOOKS":7300,"BSF":1840},{"HOOKS":7300,"BSF":1930},{"HOOKS":7300,"BSF":2110},
{"HOOKS":7400,"BSF":1840},{"HOOKS":7400,"BSF":2200},{"HOOKS":7400,"BSF":2350},
{"HOOKS":7500,"BSF":1110},{"HOOKS":7500,"BSF":1230},{"HOOKS":7500,"BSF":1500},{"HOOKS":7500,"BSF":1690},{"HOOKS":7500,"BSF":1810},{"HOOKS":7500,"BSF":1900},{"HOOKS":7500,"BSF":2200},{"HOOKS":7500,"BSF":2410},
{"HOOKS":7600,"BSF":1890},
{"HOOKS":7800,"BSF":2330},
{"HOOKS":8000,"BSF":355},{"HOOKS":8000,"BSF":400},{"HOOKS":8000,"BSF":455},{"HOOKS":8000,"BSF":500},{"HOOKS":8000,"BSF":550},{"HOOKS":8000,"BSF":605},{"HOOKS":8000,"BSF":650},{"HOOKS":8000,"BSF":700},{"HOOKS":8000,"BSF":745},{"HOOKS":8000,"BSF":800},
{"HOOKS":8000,"BSF":850},{"HOOKS":8000,"BSF":895},{"HOOKS":8000,"BSF":950},{"HOOKS":8000,"BSF":1000},{"HOOKS":8000,"BSF":1055},{"HOOKS":8000,"BSF":1100},{"HOOKS":8000,"BSF":1150},{"HOOKS":8000,"BSF":1195},{"HOOKS":8000,"BSF":1250},{"HOOKS":8000,"BSF":1300},
{"HOOKS":8000,"BSF":1345},{"HOOKS":8000,"BSF":1400},{"HOOKS":8000,"BSF":1450},{"HOOKS":8000,"BSF":1505},{"HOOKS":8000,"BSF":1550},{"HOOKS":8000,"BSF":1600},{"HOOKS":8000,"BSF":1645},{"HOOKS":8000,"BSF":1700},{"HOOKS":8000,"BSF":1750},{"HOOKS":8000,"BSF":1795},
{"HOOKS":8000,"BSF":1850},{"HOOKS":8000,"BSF":1900},{"HOOKS":8000,"BSF":1955},{"HOOKS":8000,"BSF":2000},{"HOOKS":8000,"BSF":2050},{"HOOKS":8000,"BSF":2095},{"HOOKS":8000,"BSF":2150},{"HOOKS":8000,"BSF":2200},{"HOOKS":8000,"BSF":2245},{"HOOKS":8000,"BSF":2300},
{"HOOKS":8000,"BSF":2350},{"HOOKS":8000,"BSF":2405},{"HOOKS":8000,"BSF":2450},{"HOOKS":8000,"BSF":2500},{"HOOKS":8000,"BSF":2545},{"HOOKS":8000,"BSF":2600},{"HOOKS":8000,"BSF":2650},{"HOOKS":8000,"BSF":2695},{"HOOKS":8000,"BSF":2750},{"HOOKS":8000,"BSF":2810},
{"HOOKS":8000,"BSF":2990},{"HOOKS":8000,"BSF":3020},
{"HOOKS":8300,"BSF":2080},{"HOOKS":8300,"BSF":2200},
{"HOOKS":8500,"BSF":990},{"HOOKS":8500,"BSF":1040},{"HOOKS":8500,"BSF":1090},{"HOOKS":8500,"BSF":1140},{"HOOKS":8500,"BSF":1190},{"HOOKS":8500,"BSF":1240},{"HOOKS":8500,"BSF":1290},{"HOOKS":8500,"BSF":1340},{"HOOKS":8500,"BSF":1390},{"HOOKS":8500,"BSF":1440},
{"HOOKS":8500,"BSF":1490},{"HOOKS":8500,"BSF":1540},{"HOOKS":8500,"BSF":1590},{"HOOKS":8500,"BSF":1640},{"HOOKS":8500,"BSF":1690},{"HOOKS":8500,"BSF":1740},{"HOOKS":8500,"BSF":1790},{"HOOKS":8500,"BSF":1840},{"HOOKS":8500,"BSF":1890},{"HOOKS":8500,"BSF":1940},
{"HOOKS":8500,"BSF":2020},{"HOOKS":8500,"BSF":2200},{"HOOKS":8500,"BSF":2260},{"HOOKS":8500,"BSF":2350},{"HOOKS":8500,"BSF":2500},{"HOOKS":8500,"BSF":2600}
]
},
"hconcat": [
{
  "width": 270, "height": 304,
  "title": "NHAUL vs BSF",
  "data": {"name": "nhaul"},
  "mark": {"type": "point"},
  "encoding": {
    "x": {"field": "NHAUL", "type": "quantitative", "scale": {"domain": [0.96, 2.04], "nice": false, "zero": false}, "axis": {"values": [1, 1.2, 1.4, 1.6, 1.8, 2], "format": ".1f", "title": "NHAUL"}},
    "y": {"field": "BSF", "type": "quantitative", "scale": {"domain": [-205, 5333], "nice": false, "zero": false}, "axis": {"values": [0, 1000, 2000, 3000, 4000, 5000], "format": "d", "title": "BSF"}}
  }
},
{
  "width": 270, "height": 304,
  "title": "ST vs BSF",
  "data": {"name": "st"},
  "mark": {"type": "point"},
  "encoding": {
    "x": {"field": "ST", "type": "quantitative", "scale": {"domain": [4.16, 26.84], "nice": false, "zero": false}, "axis": {"values": [5, 10, 15, 20, 25], "format": "d", "title": "ST"}},
    "y": {"field": "BSF", "type": "quantitative", "scale": {"domain": [-205, 5333], "nice": false, "zero": false}, "axis": {"values": [0, 1000, 2000, 3000, 4000, 5000], "format": "d", "title": "BSF"}}
  }
},
{
  "width": 270, "height": 304,
  "title": "HOOKS vs BSF",
  "data": {"name": "hooks"},
  "mark": {"type": "point"},
  "encoding": {
    "x": {"field": "HOOKS", "type": "quantitative", "scale": {"domain": [3300, 8700], "nice": false, "zero": false}, "axis": {"values": [4000, 5000, 6000, 7000, 8000], "labelExpr": "datum.value % 2000 === 0 ? format(datum.value, 'd') : ''", "title": "HOOKS"}},
    "y": {"field": "BSF", "type": "quantitative", "scale": {"domain": [-205, 5333], "nice": false, "zero": false}, "axis": {"values": [0, 1000, 2000, 3000, 4000, 5000], "format": "d", "title": "BSF"}}
  }
}
]
}
